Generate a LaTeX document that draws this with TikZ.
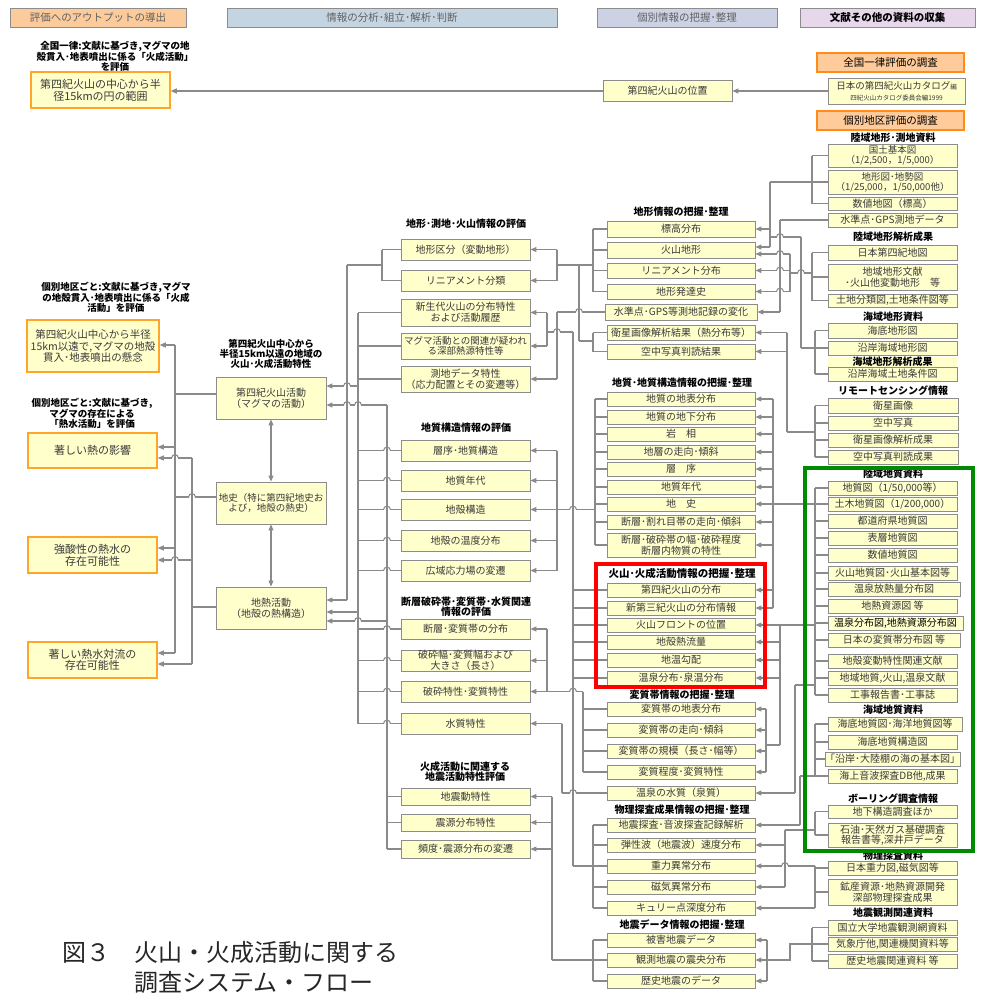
\documentclass[tikz,border=0pt]{standalone}
\usepackage{fontspec}
\setmainfont{Noto Sans CJK JP}
\usetikzlibrary{arrows.meta}
\definecolor{lgray}{HTML}{8A8A8A}
\definecolor{bgray}{HTML}{8C8C8C}
\definecolor{byel}{HTML}{FFFFCC}
\definecolor{orng}{HTML}{FFA52A}
\definecolor{orng2}{HTML}{FF8C1A}
\definecolor{allf}{HTML}{FFCB9A}
\definecolor{tcol}{HTML}{3A3A3A}
\definecolor{hA}{HTML}{FBCB9C}
\definecolor{hB}{HTML}{C5D4E1}
\definecolor{hC}{HTML}{CDD1E4}
\definecolor{hD}{HTML}{E7D7EA}
\definecolor{grn}{HTML}{008A00}
\newcommand\fz[2]{\fontsize{#1}{#2}\selectfont}
\tikzset{
 ln/.style={draw=lgray,line width=1.05pt},
 arr/.style={ln,-{Triangle[length=6pt,width=5pt]}},
 darr/.style={ln,{Triangle[length=6pt,width=5pt]}-{Triangle[length=6pt,width=5pt]}},
 bx/.style={draw=bgray,fill=byel,line width=0.9pt,inner sep=0pt,align=center,text=tcol,font=\fz{10}{10.6}},
 obx/.style={draw=orng,line width=1.5pt,font=\fz{11}{11.6}},
 hdr/.style={font=\fz{10.5}{11},text=tcol!80},
 tbox/.style={fill=allf,draw=orng2,line width=1.5pt,font=\fz{10.5}{11},text=black},
 lbl/.style={align=center,inner sep=0pt,text=black,font=\bfseries\fz{9.5}{9.6}},
 lblb/.style={lbl,font=\bfseries\fz{10}{10}},
}
\newcommand\B[7][]{%
 \pgfmathsetmacro\Bw{#5-#3}\pgfmathsetmacro\Bh{#6-#4}%
 \pgfmathsetmacro\Bx{(#3+#5)/2}\pgfmathsetmacro\By{(#4+#6)/2}%
 \node[bx,minimum width=\Bw pt,minimum height=\Bh pt,#1] (#2) at (\Bx,\By) {#7};}
\newcommand\stub[3]{\draw[ln] (#1.west |- 0,#2) -- (#3,#2);}
\newcommand\arw[3]{\draw[arr] (#3,#2) -- (#1.east |- 0,#2);}
\newcommand\bus[3]{\draw[ln] (#1,#2) -- (#1,#3);}
\newcommand\hl[3]{\draw[ln] (#2,#1) -- (#3,#1);}
\newcommand\hop[2]{%
 \fill[white] (#1-3.4,#2-1.3) rectangle (#1+3.4,#2+1.3);
 \draw[ln] (#1,#2-2) -- (#1,#2+2);
 \draw[ln] (#1-3.4,#2) arc[start angle=180,end angle=0,radius=3.4pt];}
\begin{document}
\begin{tikzpicture}[x=1pt,y=-1pt]
\useasboundingbox[fill=white] (0,0) rectangle (988,994);
% headers
\B[hdr,fill=hA]{h1}{10}{8}{186}{27}{評価へのアウトプットの導出}
\B[hdr,fill=hB]{h2}{227}{8}{557}{27}{情報の分析･組立･解析･判断}
\B[hdr,fill=hC]{h3}{597}{8}{777}{27}{個別情報の把握･整理}
\B[hdr,fill=hD,text=black,font=\bfseries\fz{10.5}{11}]{h4}{800}{8}{975}{27}{文献その他の資料の収集}
% top row
\node[lbl] (lt) at (115,56) {全国一律:文献に基づき,マグマの地\\殻貫入･地表噴出に係る「火成活動」\\を評価};
\B[obx]{t15}{31}{72}{170}{108}{第四紀火山の中心から半\\径15kmの円の範囲}
\B{tpos}{603}{80}{732}{101}{第四紀火山の位置}
\B[tbox]{tall}{817}{53}{964}{72}{全国一律評価の調査}
\B[font=\fz{9.5}{11}]{tcat}{828}{78}{965}{104}{日本の第四紀火山カタログ{\fz{6.5}{7}編}\\{\fz{6.5}{7}四紀火山カタログ委員会編1999}}
\B[tbox]{tind}{817}{111}{964}{130}{個別地区評価の調査}
% column 0
\node[lbl] (l1) at (116,297) {個別地区ごと:文献に基づき,マグマ\\の地殻貫入･地表噴出に係る「火成\\活動」を評価};
\node[lbl] (l2) at (92,413) {個別地区ごと:文献に基づき,\\マグマの存在による\\「熱水活動」を評価};
\B[obx,font=\fz{10.5}{11.5}]{c0a}{27}{320}{159}{372}{第四紀火山中心から半径\\15km以遠で,マグマの地殻\\貫入･地表噴出の懸念}
\B[obx]{c0b}{28}{433}{157}{468}{著しい熱の影響}
\B[obx]{c0c}{28}{537}{157}{573}{強酸性の熱水の\\存在可能性}
\B[obx]{c0d}{28}{642}{157}{678}{著しい熱水対流の\\存在可能性}
% column 1
\node[lbl] (l3) at (271,354) {第四紀火山中心から\\半径15km以遠の地域の\\火山･火成活動特性};
\B{c1a}{216}{377}{326}{419}{第四紀火山活動\\（マグマの活動）}
\B[font=\fz{9.5}{10.5}]{c1b}{216}{482}{326}{524}{地史（特に第四紀地史お\\よび，地殻の熱史）}
\B{c1c}{216}{587}{326}{629}{地熱活動\\（地殻の熱構造）}
% column 2
\node[lblb] (l4) at (466,224) {地形･測地･火山情報の評価};
\B{c2a}{401}{239}{530}{260}{地形区分（変動地形）}
\B{c2b}{401}{270}{530}{291}{リニアメント分類}
\B{c2c}{401}{299}{530}{326}{新生代火山の分布特性\\および活動履歴}
\B[font=\fz{9.5}{10.5}]{c2d}{401}{333}{530}{359}{マグマ活動との関連が疑われ\\る深部熱源特性等}
\B{c2e}{401}{366}{530}{392}{測地データ特性\\（応力配置とその変遷等）}
\node[lblb] (l5) at (466,428) {地質構造情報の評価};
\B{c2f}{401}{440}{530}{461}{層序･地質構造}
\B{c2g}{401}{470}{530}{491}{地質年代}
\B{c2h}{401}{499}{530}{520}{地殻構造}
\B{c2i}{401}{530}{530}{551}{地殻の温度分布}
\B{c2j}{401}{560}{530}{581}{広域応力場の変遷}
\node[lblb] (l6) at (466,607) {断層破砕帯･変質帯･水質関連\\情報の評価};
\B{c2k}{401}{619}{530}{639}{断層･変質帯の分布}
\B{c2l}{401}{650}{530}{671}{破砕幅･変質幅および\\大きさ（長さ）}
\B{c2m}{401}{681}{530}{702}{破砕特性･変質特性}
\B{c2n}{401}{713}{530}{734}{水質特性}
\node[lblb] (l7) at (465,772) {火成活動に関連する\\地震活動特性評価};
\B{c2o}{401}{788}{530}{805}{地震動特性}
\B{c2p}{401}{814}{530}{831}{震源分布特性}
\B{c2q}{401}{840}{530}{858}{頻度･震源分布の変遷}
% column 3
\node[lblb] (l8) at (681,212) {地形情報の把握･整理};
\B{c3a}{607}{221}{755}{237}{標高分布}
\B{c3b}{607}{242}{755}{258}{火山地形}
\B{c3c}{607}{263}{755}{278}{リニアメント分布}
\B{c3d}{607}{284}{755}{299}{地形発達史}
\B{c3e}{605}{304}{757}{320}{水準点･GPS等測地記録の変化}
\B{c3f}{607}{325}{755}{340}{衛星画像解析結果（熱分布等）}
\B{c3g}{607}{344}{755}{359}{空中写真判読結果}
\node[lblb] (l9) at (682,383) {地質･地質構造情報の把握･整理};
\B{c3h}{607}{392}{755}{406}{地質の地表分布}
\B{c3i}{607}{410}{755}{424}{地質の地下分布}
\B{c3j}{607}{427}{755}{441}{岩　相}
\B{c3k}{607}{445}{755}{459}{地層の走向･傾斜}
\B{c3l}{607}{462}{755}{476}{層　序}
\B{c3m}{607}{480}{755}{494}{地質年代}
\B{c3n}{607}{497}{755}{511}{地　史}
\B{c3o}{607}{515}{755}{529}{断層･割れ目帯の走向･傾斜}
\B{c3p}{607}{533}{755}{557}{断層･破砕帯の幅･破砕程度\\断層内物質の特性}
\node[lblb,font=\bfseries\fz{10.5}{10.5}] (l10) at (682,573) {火山･火成活動情報の把握･整理};
\B{c3q}{607}{583}{755}{597}{第四紀火山の分布}
\B{c3r}{607}{601}{755}{615}{新第三紀火山の分布情報}
\B{c3s}{607}{618}{755}{632}{火山フロントの位置}
\B{c3t}{607}{635}{755}{649}{地殻熱流量}
\B{c3u}{607}{653}{755}{667}{地温勾配}
\B{c3v}{607}{671}{755}{685}{温泉分布･泉温分布}
\node[lblb] (l11) at (682,695) {変質帯情報の把握･整理};
\B{c3w}{607}{702}{755}{716}{変質帯の地表分布}
\B{c3x}{607}{723}{755}{737}{変質帯の走向･傾斜}
\B{c3y}{607}{744}{755}{758}{変質帯の規模（長さ･幅等）}
\B{c3z}{607}{765}{755}{779}{変質程度･変質特性}
\B{c3A}{607}{786}{755}{800}{温泉の水質（泉質）}
\node[lblb] (l12) at (682,810) {物理探査成果情報の把握･整理};
\B{c3B}{607}{818}{755}{832}{地震探査･音波探査記録解析}
\B{c3C}{607}{838}{755}{852}{弾性波（地震波）速度分布}
\B{c3D}{607}{859}{755}{873}{重力異常分布}
\B{c3E}{607}{880}{755}{894}{磁気異常分布}
\B{c3F}{607}{901}{755}{915}{キュリー点深度分布}
\node[lblb] (l13) at (682,925) {地震データ情報の把握･整理};
\B{c3G}{607}{933}{755}{947}{被害地震データ}
\B{c3H}{607}{953}{755}{967}{観測地震の震央分布}
\B{c3I}{607}{974}{755}{988}{歴史地震のデータ}
% right column
\node[lblb] (rl1) at (893,138) {陸域地形･測地資料};
\B[font=\fz{9.5}{10}]{r1}{828}{144}{957}{167}{国土基本図\\（1/2,500，1/5,000）}
\B[font=\fz{9.5}{10}]{r2}{828}{170}{957}{194}{地形図･地勢図\\（1/25,000，1/50,000他）}
\B{r3}{828}{197}{957}{210}{数値地図（標高）}
\B{r4}{828}{213}{957}{227}{水準点･GPS測地データ}
\node[lblb] (rl2) at (893,237) {陸域地形解析成果};
\B{r5}{828}{245}{957}{260}{日本第四紀地図}
\B{r6}{828}{264}{957}{290}{地域地形文献\\･火山他変動地形　等}
\B{r7}{828}{294}{957}{307}{土地分類図,土地条件図等}
\node[lblb] (rl3) at (893,317) {海域地形資料};
\B{r8}{828}{323}{957}{338}{海底地形図}
\B{r9}{828}{341}{957}{355}{沿岸海域地形図}
\B{r10}{828}{367}{957}{381}{沿岸海域土地条件図}
\node[lblb,fill=byel,minimum width=129pt,minimum height=9pt] (rl4) at (892.5,362) {海域地形解析成果};
\node[lblb] (rl5) at (893,391) {リモートセンシング情報};
\B{r11}{828}{398}{958}{413}{衛星画像}
\B{r12}{828}{416}{958}{430}{空中写真}
\B{r13}{828}{433}{958}{447}{衛星画像解析成果}
\B{r14}{828}{450}{958}{464}{空中写真判読成果}
\node[lblb] (rl6) at (893,474) {陸域地質資料};
\B{r15}{828}{481}{957}{495}{地質図（1/50,000等）}
\B{r16}{828}{497}{957}{511}{土木地質図（1/200,000）}
\B{r17}{828}{514}{957}{528}{都道府県地質図}
\B{r18}{828}{531}{957}{545}{表層地質図}
\B{r19}{828}{548}{957}{562}{数値地質図}
\B{r20}{828}{566}{957}{580}{火山地質図･火山基本図等}
\B{r21}{828}{582}{960}{596}{温泉放熱量分布図}
\B{r22}{828}{599}{957}{613}{地熱資源図 等}
\B[text=black]{r23}{828}{616}{963}{630}{温泉分布図,地熱資源分布図}
\B{r24}{828}{633}{960}{647}{日本の変質帯分布図 等}
\B{r25}{828}{654}{957}{668}{地殻変動特性関連文献}
\B{r26}{828}{671}{957}{685}{地域地質,火山,温泉文献}
\B{r27}{828}{688}{957}{702}{工事報告書･工事誌}
\node[lblb] (rl7) at (893,710) {海域地質資料};
\B{r28}{828}{717}{962}{731}{海底地質図･海洋地質図等}
\B{r29}{828}{735}{957}{749}{海底地質構造図}
\B{r30}{828}{752}{957}{766}{「沿岸･大陸棚の海の基本図」}
\B{r31}{828}{769}{957}{783}{海上音波探査DB他,成果}
\node[lblb] (rl8) at (893,799) {ボーリング調査情報};
\B{r32}{828}{805}{957}{818}{地下構造調査ほか}
\B{r33}{828}{823}{957}{847}{石油･天然ガス基礎調査\\報告書等,深井戸データ}
\node[lblb] (rl9) at (893,856) {物理探査資料};
\B{r34}{828}{861}{957}{875}{日本重力図,磁気図等}
\B{r35}{828}{879}{957}{905}{鉱産資源･地熱資源開発\\深部物理探査成果}
\node[lblb] (rl10) at (893,913) {地震観測関連資料};
\B{r36}{828}{920}{957}{935}{国立大学地震観測網資料}
\B{r37}{828}{937}{957}{951}{気象庁他,関連機関資料等}
\B{r38}{828}{954}{957}{968}{歴史地震関連資料 等}
% caption
\node[anchor=west,inner sep=0pt,font=\fz{24}{26},text=black!85] (cap1) at (62,952) {図３　火山・火成活動に関する};
\node[anchor=west,inner sep=0pt,font=\fz{24}{26},text=black!85] (cap2) at (134,982) {調査システム・フロー};
% ---------- connectors ----------
\draw[arr] (tcat.west |- 0,91) -- (tpos.east |- 0,91);
\draw[arr] (tpos.west |- 0,91) -- (t15.east |- 0,91);
% column1 -> column0
\stub{c1a}{394}{175} \bus{175}{345}{653}
\arw{c0a}{345}{175} \arw{c0b}{447}{175} \arw{c0c}{548}{175} \arw{c0d}{653}{175}
\stub{c1b}{497}{175}
\stub{c1c}{607}{192} \bus{192}{458}{664}
\arw{c0b}{458}{192} \arw{c0c}{560}{192} \arw{c0d}{664}{192}
\draw[darr] (c1a.south) -- (c1b.north);
\draw[darr] (c1b.south) -- (c1c.north);
% column2 -> column1
\stub{c2a}{249.5}{382} \stub{c2b}{280.5}{382} \bus{382}{249.5}{280.5}
\hl{265}{382}{347} \bus{347}{265}{600} \arw{c1c}{600}{347}
\stub{c2c}{312.5}{358} \stub{c2d}{346}{358} \stub{c2e}{379}{358}
\stub{c2f}{450.5}{358} \stub{c2g}{480.5}{358} \stub{c2h}{509.5}{358}
\stub{c2i}{540.5}{358} \stub{c2j}{570.5}{358} \stub{c2k}{629}{358}
\stub{c2l}{660.5}{358} \stub{c2m}{691.5}{358} \stub{c2n}{723.5}{358}
\bus{358}{312.5}{723.5} \arw{c1a}{386}{358} \arw{c1c}{612}{358}
\stub{c2o}{796.5}{387} \stub{c2p}{822.5}{387} \stub{c2q}{849}{387}
\bus{387}{405}{849} \arw{c1a}{405}{387} \arw{c1c}{621}{387}
% column3 -> column2
\stub{c3a}{229}{593} \stub{c3b}{250}{593} \stub{c3c}{270.5}{593} \stub{c3d}{291.5}{593}
\bus{593}{229}{291.5} \hl{265}{593}{557} \bus{557}{249.5}{280.5}
\arw{c2a}{249.5}{557} \arw{c2b}{280.5}{557}
\stub{c3f}{332.5}{593} \stub{c3g}{351.5}{593} \bus{593}{332.5}{351.5}
\hl{341}{593}{579} \bus{579}{265}{341}
\stub{c3e}{312}{557} \bus{557}{312}{379} \arw{c2e}{379}{557}
\bus{547}{312.5}{346} \arw{c2c}{312.5}{547} \arw{c2d}{346}{547}
\hl{332}{547}{573} \bus{573}{332}{866}
\stub{c3h}{399}{595} \stub{c3i}{417}{595} \stub{c3j}{434}{595} \stub{c3k}{452}{595}
\stub{c3l}{469}{595} \stub{c3m}{487}{595} \stub{c3n}{504}{595} \stub{c3o}{522}{595}
\stub{c3p}{545}{595} \bus{595}{399}{545}
\arw{c2h}{509.5}{595} \bus{557}{450.5}{570.5}
\arw{c2f}{450.5}{557} \arw{c2g}{480.5}{557} \arw{c2i}{540.5}{557} \arw{c2j}{570.5}{557}
\stub{c3q}{590}{573} \stub{c3r}{608}{573} \stub{c3s}{625}{573}
\stub{c3t}{642}{573} \stub{c3u}{660}{573} \stub{c3v}{678}{573}
\stub{c3w}{709}{583} \stub{c3x}{730}{583} \stub{c3y}{751}{583} \stub{c3z}{772}{583}
\bus{583}{691.5}{772} \hl{691.5}{583}{547} \bus{547}{629}{691.5}
\arw{c2k}{629}{547} \arw{c2l}{660.5}{547} \arw{c2m}{691.5}{547}
\stub{c3A}{793}{562} \bus{562}{723.5}{793} \arw{c2n}{723.5}{562}
\stub{c3B}{825}{593} \stub{c3C}{845}{593} \stub{c3D}{866}{593} \stub{c3E}{887}{593} \stub{c3F}{908}{593}
\bus{593}{825}{908} \hl{866}{593}{573}
\stub{c3G}{940}{593} \stub{c3H}{960}{593} \stub{c3I}{981}{593} \bus{593}{940}{981}
\hl{960}{593}{552} \bus{552}{796.5}{960}
\arw{c2o}{796.5}{552} \arw{c2p}{822.5}{552} \arw{c2q}{849}{552}
% right column -> column3
\stub{r1}{155.5}{812} \stub{r2}{182}{812} \stub{r3}{203.5}{812} \bus{812}{155.5}{203.5}
\hl{182}{812}{770} \bus{770}{182}{247} \arw{c3a}{229}{770} \arw{c3b}{247}{770}
\stub{r4}{220}{780} \bus{780}{220}{312} \arw{c3e}{312}{780}
\stub{r5}{252.5}{812} \stub{r6}{277}{812} \stub{r7}{300.5}{812} \bus{812}{252.5}{300.5}
\hl{273}{812}{790} \bus{790}{254}{291.5}
\arw{c3b}{254}{790} \arw{c3c}{270.5}{790} \arw{c3d}{291.5}{790}
\stub{r8}{330.5}{815} \stub{r9}{348}{801} \stub{r10}{374}{815} \bus{815}{330.5}{374}
\bus{801}{237}{348} \hl{237}{801}{770}
\stub{r11}{405.5}{815} \stub{r12}{423}{815} \stub{r13}{440}{815} \stub{r14}{457}{815}
\bus{815}{405.5}{457} \hl{432}{815}{787} \bus{787}{332.5}{432}
\arw{c3f}{332.5}{787} \arw{c3g}{351.5}{787}
\stub{r15}{488}{815} \stub{r16}{504}{815} \stub{r17}{521}{815} \stub{r18}{538}{815}
\stub{r19}{555}{815} \stub{r20}{573}{815} \stub{r21}{589}{815} \stub{r22}{606}{815}
\stub{r23}{623}{815} \stub{r24}{640}{815} \stub{r25}{661}{815} \stub{r26}{678}{815}
\stub{r27}{695}{815} \bus{815}{488}{695}
\hl{504}{815}{773} \bus{773}{399}{608}
\arw{c3h}{399}{773} \arw{c3i}{417}{773} \arw{c3j}{434}{773} \arw{c3k}{452}{773}
\arw{c3l}{469}{773} \arw{c3m}{487}{773} \arw{c3n}{504}{773} \arw{c3o}{522}{773}
\arw{c3p}{545}{773} \arw{c3q}{590}{773} \arw{c3r}{608}{773}
\hl{625}{815}{780} \bus{780}{625}{745}
\arw{c3s}{625}{780} \arw{c3t}{642}{780} \arw{c3u}{660}{780} \arw{c3v}{678}{780}
\hl{745}{780}{766} \bus{766}{709}{772}
\arw{c3w}{709}{766} \arw{c3x}{730}{766} \arw{c3y}{751}{766} \arw{c3z}{772}{766}
\hl{685}{815}{795} \bus{795}{685}{793} \arw{c3A}{793}{795}
\stub{r28}{724}{815} \stub{r29}{742}{815} \stub{r30}{759}{815} \stub{r31}{776}{815}
\bus{815}{724}{776} \hl{776}{815}{800} \bus{800}{776}{825} \arw{c3B}{825}{800}
\stub{r32}{811.5}{815} \stub{r33}{835}{815} \bus{815}{811.5}{835}
\hl{830}{815}{785} \bus{785}{830}{887} \arw{c3C}{845}{785} \arw{c3E}{887}{785}
\stub{r34}{868}{815} \stub{r35}{892}{815} \bus{815}{866}{908}
\arw{c3D}{866}{815} \arw{c3F}{908}{815}
\stub{r36}{927.5}{812} \stub{r37}{944}{812} \stub{r38}{961}{812} \bus{812}{927.5}{961}
\draw[ln] (812,944) -- (790,944) -- (790,960) -- (767,960);
\bus{767}{940}{981}
\arw{c3G}{940}{767} \arw{c3H}{960}{767} \arw{c3I}{981}{767}
% hops
\hop{192}{497} \hop{175}{458} \hop{175}{560}
\hop{347}{386} \hop{347}{405} \hop{358}{405} \hop{358}{621}
\hop{387}{450.5} \hop{387}{480.5} \hop{387}{509.5} \hop{387}{540.5} \hop{387}{570.5}
\hop{387}{629} \hop{387}{660.5} \hop{387}{691.5} \hop{387}{723.5}
\hop{579}{312} \hop{557}{332} \hop{573}{509.5} \hop{573}{691.5} \hop{573}{793}
\hop{780}{254} \hop{780}{270.5} \hop{780}{291.5} \hop{801}{273} \hop{780}{237} \hop{785}{866}
% highlight frames
\draw[red,line width=3.6pt] (596,564) rectangle (765,687);
\draw[grn,line width=3.6pt] (805,468) rectangle (973,851);
\end{tikzpicture}
\end{document}
